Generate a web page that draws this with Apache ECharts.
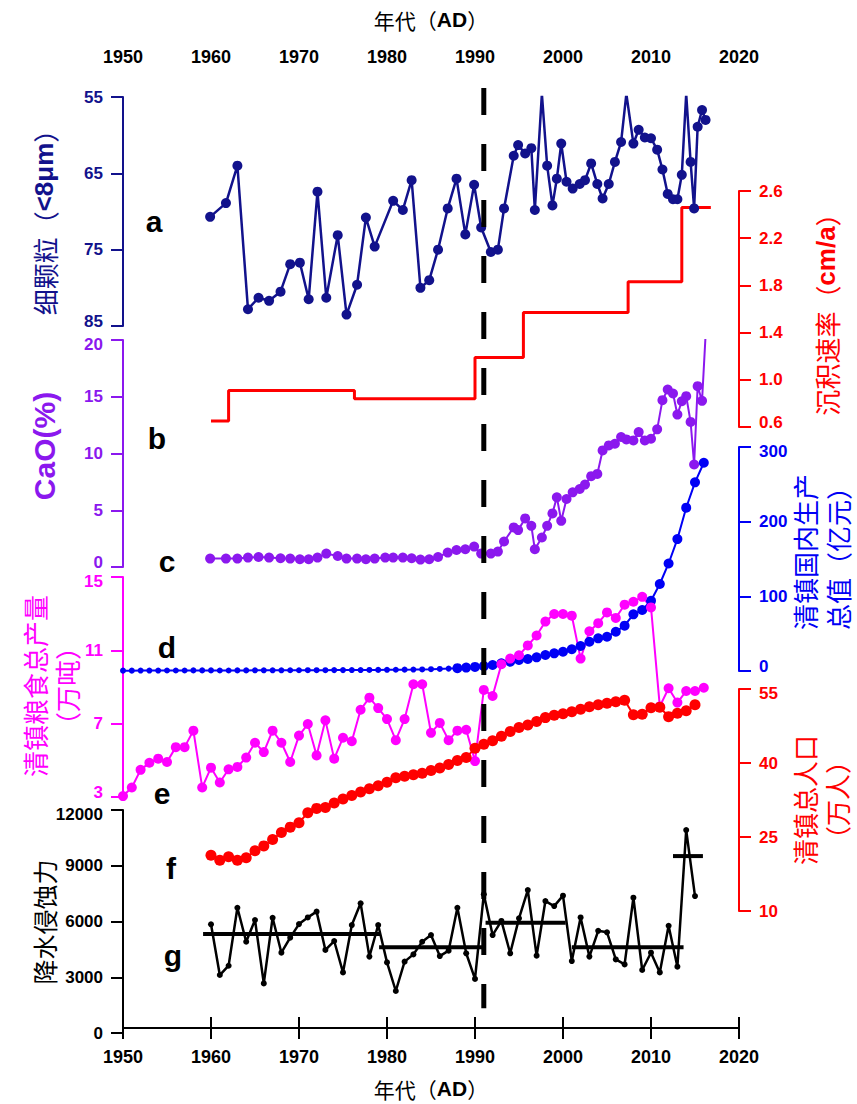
<!DOCTYPE html>
<html>
<head>
<meta charset="utf-8">
<script src="https://cdn.jsdelivr.net/npm/echarts@6/dist/echarts.min.js"></script>
<style>
html, body { margin: 0; padding: 0; background: #fff; }
#main { width: 857px; height: 1104px; }
</style>
</head>
<body>
<div id="main"></div>
<script>
// ---- data ----
// dated core samples: fine particles (<8μm) and CaO
const coreYears = [1959.9, 1961.7, 1963.0, 1964.2, 1965.4, 1966.6, 1967.9, 1969.0, 1970.1, 1971.1,
  1972.1, 1973.1, 1974.4, 1975.4, 1976.6, 1977.6, 1978.6, 1979.8, 1980.7, 1981.8,
  1982.8, 1983.8, 1984.8, 1985.8, 1986.9, 1987.9, 1988.9, 1989.9, 1990.7, 1991.8,
  1992.6, 1993.3, 1994.4, 1994.9, 1995.7, 1996.4, 1996.8, 1997.6, 1998.2, 1998.8,
  1999.3, 1999.8, 2000.4, 2001.1, 2001.9, 2002.5, 2003.2, 2003.9, 2004.5, 2005.2,
  2005.9, 2006.6, 2007.2, 2008.0, 2008.6, 2009.3, 2010.0, 2010.7, 2011.3, 2011.9,
  2012.5, 2013.0, 2013.5, 2014.0, 2014.5, 2014.9, 2015.3, 2015.8, 2016.2];
const fineVals = [70.7, 68.9, 64.0, 82.8, 81.3, 81.7, 80.5, 76.9, 76.7, 81.5,
  67.4, 81.3, 73.1, 83.5, 79.6, 70.8, 74.6, null, 68.6, 69.8,
  65.9, 80.0, 79.0, 75.0, 69.6, 65.7, 73.0, 66.5, 72.1, 75.3,
  75.0, 69.6, 62.7, 61.3, 62.4, 61.7, 69.8, 54.6, 64.0, 69.2,
  65.7, 61.1, 66.1, 67.0, 66.4, 65.9, 63.7, 66.4, 68.3, 66.4,
  63.5, 60.9, 54.6, 61.1, 59.3, 60.3, 60.4, 61.9, 64.5, 67.7,
  68.4, 68.4, 65.2, 54.6, 63.5, 69.6, 58.9, 56.7, 58.0];
const caoVals = [0.74, 0.74, 0.74, 0.83, 0.88, 0.83, 0.77, 0.74, 0.68, 0.68,
  0.83, 1.18, 0.97, 0.74, 0.74, 0.68, 0.74, 0.83, 0.83, 0.83,
  0.77, 0.65, 0.68, 0.88, 1.27, 1.50, 1.56, 1.80, 1.18, 1.18,
  1.36, 2.25, 3.49, 3.25, 4.28, 3.63, 1.56, 2.60, 3.63, 4.72,
  6.14, 4.07, 5.99, 6.58, 6.87, 7.26, 8.00, 8.20, 10.27, 10.71,
  10.86, 11.45, 11.24, 11.15, 11.89, 11.15, 11.30, 12.13, 14.70, 15.64,
  15.29, 13.43, 14.60, 15.05, 12.78, 9.03, 15.93, 14.64, 20.4];

// sedimentation rate (cm/a), step changes
const sedYears = [1960, 1962, 1976.3, 1990, 1995.5, 2007.4, 2013.5, 2016.8];
const sedRates = [0.65, 0.91, 0.84, 1.19, 1.57, 1.83, 2.46, 2.46];

// Qingzhen GDP (1e8 yuan), 1950-2016
const gdpStart = 1950;
const gdpVals = [0.5, 0.5, 0.6, 0.6, 0.6, 0.7, 0.7, 0.7, 0.8, 0.8,
  0.8, 0.7, 0.7, 0.8, 0.8, 0.9, 0.9, 0.9, 0.9, 1.0,
  1.0, 1.1, 1.1, 1.1, 1.2, 1.2, 1.3, 1.3, 1.4, 1.5,
  1.6, 1.7, 1.8, 1.9, 2.1, 2.4, 2.8, 3.2, 3.8, 4.6,
  5.5, 6.5, 8.0, 10.3, 12.5, 14.7, 16.1, 18.3, 21.4, 23.7,
  25.8, 29.1, 33.5, 39.2, 43.8, 45.9, 52.6, 60.7, 75.9, 81.7,
  94.1, 116.5, 144, 176.7, 218.7, 252.7, 278.9];

// Qingzhen grain output (1e4 t), 1950-2016
const grainStart = 1950;
const grainVals = [3.05, 3.52, 4.48, 4.87, 5.09, 4.91, 5.72, 5.72, 6.62, 3.52,
  4.6, 3.79, 4.51, 4.64, 5.15, 5.96, 5.45, 6.62, 5.96, 4.91,
  6.35, 6.98, 5.27, 7.18, 5.09, 6.23, 6.04, 7.76, 8.42, 7.85,
  7.25, 6.1, 7.25, 9.15, 9.15, 6.5, 7.04, 6.1, 6.62, 6.67,
  4.96, 8.84, 8.51, 10.24, 10.55, 10.73, 11.27, 11.81, 12.57, 12.98,
  12.98, 12.89, 10.55, 12.04, 12.48, 13.07, 12.77, 13.49, 13.65, 13.92,
  13.34, 7.94, 8.93, 8.15, 8.78, 8.78, 8.96];

// Qingzhen population (1e4 persons), 1960-2015
const popStart = 1960;
const popVals = [21.3, 20.3, 21.0, 20.3, 20.8, 22.2, 23.2, 24.5, 25.9, 27.0,
  27.9, 29.9, 30.8, 31.0, 31.9, 32.7, 33.4, 34.1, 34.8, 35.4,
  36.1, 37.0, 37.3, 37.6, 37.9, 38.5, 39.0, 39.7, 40.5, 41.1,
  43.0, 43.8, 44.5, 45.4, 46.4, 47.2, 47.7, 48.4, 49.2, 49.7,
  50.0, 50.4, 50.9, 51.4, 51.8, 52.1, 52.4, 52.7, 49.8, 49.9,
  51.2, 51.3, 49.4, 50.1, 50.6, 51.8];

// rainfall erosivity, 1960-2015
const erosStart = 1960;
const erosVals = [5848, 3120, 3620, 6740, 4910, 6080, 2670, 6200, 4320, 5130,
  5860, 6220, 6530, 4470, 4950, 3260, 5810, 6980, 4110, 5810,
  3800, 2260, 3840, 4230, 4910, 5270, 4140, 4430, 6740, 4290,
  2910, 7460, 5270, 6030, 4290, 6170, 7690, 4160, 7100, 6830,
  7390, 3870, 6220, 4110, 5500, 5420, 3960, 3690, 7280, 3390,
  4320, 3260, 5770, 3570, 10920, 7370];
// period means of erosivity
const meanStart = [1959.1, 1979.1, 1991.2, 2001.0, 2012.5];
const meanEnd = [1979.3, 1990.9, 2000.3, 2013.7, 2015.9];
const meanVals = [5330, 4610, 5930, 4610, 9520];

const breakYear = 1991;

// ---- styling ----
const NUM = "'Liberation Sans', Arial, sans-serif";
const CJK = "'Noto Sans CJK SC', sans-serif";
const NAVY = '#12128c', PURPLE = '#8b18ee', MAGENTA = '#ff00ff', BLUE = '#0000f5', RED = '#ff0000';

const pair = (xs, ys) => xs.map((x, i) => [x, ys[i]]);
const annual = (start, ys) => ys.map((y, i) => [start + i, y]);

let chart = echarts.init(document.getElementById('main'), null, { renderer: 'svg' });

// grid pixel bands: [top, height]
const bands = [
  [88, 945],   // 0 frame: x axes + break line
  [97, 229],   // 1 fine particles
  [191, 236],  // 2 sedimentation rate
  [340, 227],  // 3 CaO
  [447, 224],  // 4 GDP
  [577, 220],  // 5 grain
  [689, 222],  // 6 population
  [810, 223]   // 7 erosivity
];
const grids = bands.map(b => ({ left: 123, right: 118, top: b[0], height: b[1] }));

function xAxis(pos, margin, gap) {
  return {
    type: 'value', gridIndex: 0, position: pos, min: 1950, max: 2020, interval: 10,
    axisLine: { show: true, lineStyle: { color: '#000', width: 2 } },
    axisTick: { show: true, length: 11, lineStyle: { color: '#000', width: 2 } },
    axisLabel: { margin: margin, fontFamily: NUM, fontWeight: 'bold', fontSize: 18, color: '#000',
      formatter: v => String(v) },
    splitLine: { show: false },
    name: '年代（{b|AD}）', nameLocation: 'middle', nameGap: gap,
    nameTextStyle: { fontFamily: CJK, fontSize: 21, color: '#000',
      rich: { b: { fontFamily: NUM, fontWeight: 'bold', fontSize: 21, color: '#000' } } }
  };
}
const xAxes = [xAxis('top', 22, 58), xAxis('bottom', 20, 50)];
for (let g = 1; g < bands.length; g++) {
  xAxes.push({ type: 'value', gridIndex: g, min: 1950, max: 2020, show: false });
}

// shift: map of tick value -> 'up' | 'down' to ease crowded end labels
function yAxis(g, pos, color, min, max, ticks, shift, opts) {
  const font = { fontFamily: NUM, fontWeight: 'bold', fontSize: 17, color: color };
  let ax = {
    type: 'value', gridIndex: g, position: pos, min: min, max: max,
    axisLine: { show: true, lineStyle: { color: color, width: 2 } },
    axisTick: { show: true, length: 12, customValues: ticks, lineStyle: { color: color, width: 2 } },
    axisLabel: Object.assign({ margin: 20, customValues: ticks,
      formatter: function (v) {
        let s = (g === 2) ? v.toFixed(1) : String(v);
        return shift && shift[v] ? '{' + shift[v] + '|' + s + '}' : s;
      },
      rich: {
        up: Object.assign({ padding: [0, 0, 10, 0] }, font),
        down: Object.assign({ padding: [8, 0, 0, 0] }, font)
      } }, font),
    splitLine: { show: false }
  };
  return Object.assign(ax, opts || {});
}

const yAxes = [
  { type: 'value', gridIndex: 0, min: 0, max: 1, show: false },
  yAxis(1, 'left', NAVY, 55, 85, [55, 65, 75, 85], { 85: 'up' }, { inverse: true }),
  yAxis(2, 'right', RED, 0.6, 2.6, [0.6, 1.0, 1.4, 1.8, 2.2, 2.6], { 0.6: 'up' }),
  yAxis(3, 'left', PURPLE, 0, 20, [0, 5, 10, 15, 20], { 0: 'up', 20: 'down' }),
  yAxis(4, 'right', BLUE, 0, 300, [0, 100, 200, 300], { 0: 'up', 300: 'down' }),
  yAxis(5, 'left', MAGENTA, 3, 15, [3, 7, 11, 15], { 3: 'up', 15: 'down' }),
  yAxis(6, 'right', RED, 10, 55, [10, 25, 40, 55], { 55: 'down' }),
  yAxis(7, 'left', '#000', 0, 12000, [0, 3000, 6000, 9000, 12000], { 12000: 'down' })
];

function dots(idx, data, color, size, width, extra) {
  return Object.assign({
    type: 'line', xAxisIndex: idx + 1, yAxisIndex: idx, data: data,
    symbol: 'circle', symbolSize: size, showSymbol: true, connectNulls: true, clip: true,
    itemStyle: { color: color }, lineStyle: { color: color, width: width },
    animation: false, silent: true
  }, extra || {});
}

const series = [
  dots(1, pair(coreYears, fineVals), NAVY, 10, 2.5),
  dots(2, pair(sedYears, sedRates), RED, 0, 3, { step: 'end', symbol: 'none', z: 1 }),
  dots(3, pair(coreYears, caoVals), PURPLE, 10, 2),
  dots(4, annual(gdpStart, gdpVals), BLUE, function (v) { return v[0] < 1988 ? 6 : 10; }, 2),
  dots(5, annual(grainStart, grainVals), MAGENTA, 10, 2),
  dots(6, annual(popStart, popVals), RED, 11, 2),
  dots(7, annual(erosStart, erosVals), '#000', 6, 2.5)
];
meanVals.forEach(function (m, i) {
  series.push(dots(7, [[meanStart[i], m], [meanEnd[i], m]], '#000', 0, 4, { symbol: 'none' }));
});
// 1991 break line
series.push({
  type: 'line', xAxisIndex: 0, yAxisIndex: 0, data: [[breakYear, 1], [breakYear, 0.021]],
  symbol: 'none', lineStyle: { color: '#000', width: 5, type: [27, 29] }, z: 20,
  animation: false, silent: true
});

function vname(x, y, text, color, size, lh) {
  return {
    type: 'text', x: x, y: y, rotation: Math.PI / 2, z: 50,
    style: {
      text: text, fill: color, fontFamily: CJK, fontSize: size, lineHeight: lh || size + 8,
      align: 'center', verticalAlign: 'middle', textAlign: 'center', textVerticalAlign: 'middle',
      rich: { b: { fontFamily: NUM, fontWeight: 'bold', fontSize: size, fill: color } }
    }
  };
}
function letter(x, y, t) {
  return {
    type: 'text', x: x, y: y, z: 50,
    style: { text: t, fill: '#000', fontFamily: NUM, fontWeight: 'bold', fontSize: 30,
      align: 'center', verticalAlign: 'middle', textAlign: 'center', textVerticalAlign: 'middle' }
  };
}

const graphics = [
  vname(44, 216, '细颗粒（{b|<8μm}）', NAVY, 26),
  vname(44, 446, '{b|CaO(%)}', PURPLE, 30),
  vname(50, 686, '清镇粮食总产量\n（万吨）', MAGENTA, 26, 32),
  vname(44, 922, '降水侵蚀力', '#000', 25),
  vname(826, 308, '沉积速率（{b|cm/a}）', RED, 26),
  vname(821, 552, '清镇国内生产\n总值（亿元）', BLUE, 26, 33),
  vname(820, 800, '清镇总人口\n（万人）', RED, 26, 32),
  letter(154, 221, 'a'),
  letter(157, 438, 'b'),
  letter(167, 561, 'c'),
  letter(167, 647, 'd'),
  letter(162, 793, 'e'),
  letter(171, 868, 'f'),
  letter(173, 955, 'g')
];

let option = {
  backgroundColor: '#fff',
  animation: false,
  grid: grids,
  xAxis: xAxes,
  yAxis: yAxes,
  series: series,
  graphic: graphics
};
option && chart.setOption(option);
</script>
</body>
</html>
